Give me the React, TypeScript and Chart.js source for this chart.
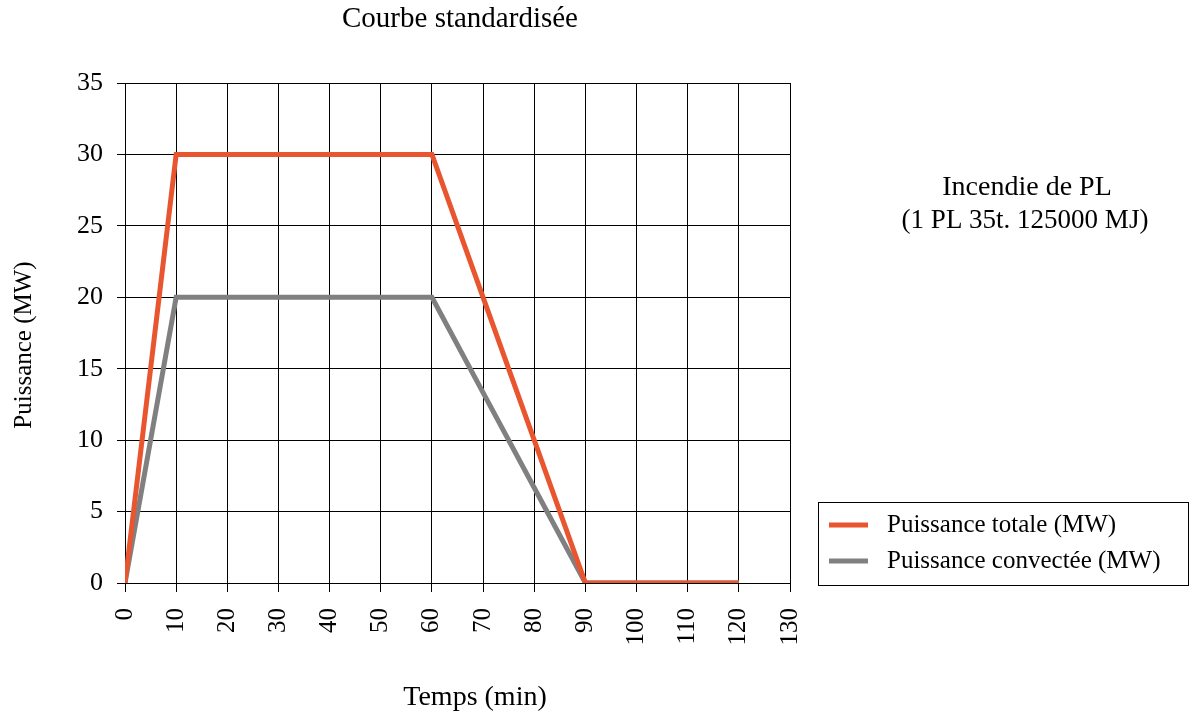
import React, { useEffect, useRef } from "react";
import { Chart, registerables } from "chart.js";

Chart.register(...registerables);

const timeMinutes = [0, 10, 20, 30, 40, 50, 60, 70, 80, 90, 100, 110, 120];
const totalPower = [0, 30, 30, 30, 30, 30, 30, 20, 10, 0, 0, 0, 0];
const convectedPower = [0, 20, 20, 20, 20, 20, 20, 13.33, 6.67, 0, 0, 0, 0];
const seriesNames = ["Puissance totale (MW)", "Puissance convectée (MW)"];
const chartTitle = "Courbe standardisée";
const noteLines = ["Incendie de PL", "(1 PL 35t. 125000 MJ)"];
const xTitle = "Temps (min)";
const yTitle = "Puissance (MW)";

const ORANGE = "#E8552F";
const GRAY = "#808080";
const FONT = "'Liberation Serif', 'Times New Roman', serif";

export default function App() {
  const ref = useRef<HTMLCanvasElement | null>(null);
  useEffect(() => {
    if (!ref.current) return;
    const overlay = {
      id: "overlay",
      afterDraw(chart: any) {
        const ctx = chart.ctx as CanvasRenderingContext2D;
        const area = chart.chartArea;
        ctx.save();
        ctx.fillStyle = "#000";
        ctx.textBaseline = "middle";
        ctx.textAlign = "center";
        ctx.font = `29px ${FONT}`;
        ctx.fillText(chartTitle, 460, 19);
        ctx.font = `28px ${FONT}`;
        ctx.fillText(noteLines[0], 1027, 188);
        ctx.font = `27px ${FONT}`;
        ctx.fillText(noteLines[1], 1025, 221);
        ctx.font = `28px ${FONT}`;
        ctx.fillText(xTitle, 475, 698);
        ctx.save();
        ctx.font = `25px ${FONT}`;
        ctx.translate(24, 345);
        ctx.rotate(-Math.PI / 2);
        ctx.fillText(yTitle, 0, 0);
        ctx.restore();
        // legend box
        ctx.strokeStyle = "#000";
        ctx.lineWidth = 1;
        ctx.strokeRect(818.5, 502.5, 370, 83);
        const colors = [ORANGE, GRAY];
        const ys = [525, 561];
        ctx.textAlign = "left";
        ctx.font = `25px ${FONT}`;
        for (let i = 0; i < 2; i++) {
          ctx.strokeStyle = colors[i];
          ctx.lineWidth = 5;
          ctx.beginPath();
          ctx.moveTo(829, ys[i]);
          ctx.lineTo(868, ys[i]);
          ctx.stroke();
          ctx.fillStyle = "#000";
          ctx.fillText(seriesNames[i], 887, ys[i]);
        }
        void area;
        ctx.restore();
      },
    };
    const chart = new Chart(ref.current, {
      type: "line",
      data: {
        datasets: [
          {
            label: seriesNames[0],
            data: timeMinutes.map((t, i) => ({ x: t, y: totalPower[i] })),
            borderColor: ORANGE,
            backgroundColor: ORANGE,
            borderWidth: 5,
            pointRadius: 0,
            tension: 0,
          },
          {
            label: seriesNames[1],
            data: timeMinutes.map((t, i) => ({ x: t, y: convectedPower[i] })),
            borderColor: GRAY,
            backgroundColor: GRAY,
            borderWidth: 5,
            pointRadius: 0,
            tension: 0,
          },
        ],
      },
      options: {
        responsive: false,
        animation: false,
        layout: { padding: { left: 0, right: 403, top: 83, bottom: 0 } },
        plugins: { legend: { display: false }, title: { display: false }, tooltip: { enabled: false } },
        scales: {
          x: {
            type: "linear",
            min: 0,
            max: 130,
            ticks: {
              stepSize: 10,
              minRotation: 90,
              maxRotation: 90,
              color: "#000",
              font: { family: FONT, size: 25 },
              padding: 16,
            },
            grid: { color: "#000", lineWidth: 1, tickLength: 9, drawTicks: true },
            border: { color: "#000", width: 1 },
            afterFit: (s: any) => {
              s.height = 135;
            },
          },
          y: {
            type: "linear",
            min: 0,
            max: 35,
            ticks: {
              stepSize: 5,
              color: "#000",
              font: { family: FONT, size: 26 },
              padding: 14,
            },
            grid: { color: "#000", lineWidth: 1, tickLength: 8, drawTicks: true },
            border: { color: "#000", width: 1 },
            afterFit: (s: any) => {
              s.width = 125;
            },
          },
        },
      },
      plugins: [overlay],
    });
    return () => chart.destroy();
  }, []);
  return (
    <div style={{ position: "absolute", left: 0, top: 0, width: 1193, height: 718, background: "#fff" }}>
      <canvas ref={ref} width={1193} height={718} />
    </div>
  );
}
